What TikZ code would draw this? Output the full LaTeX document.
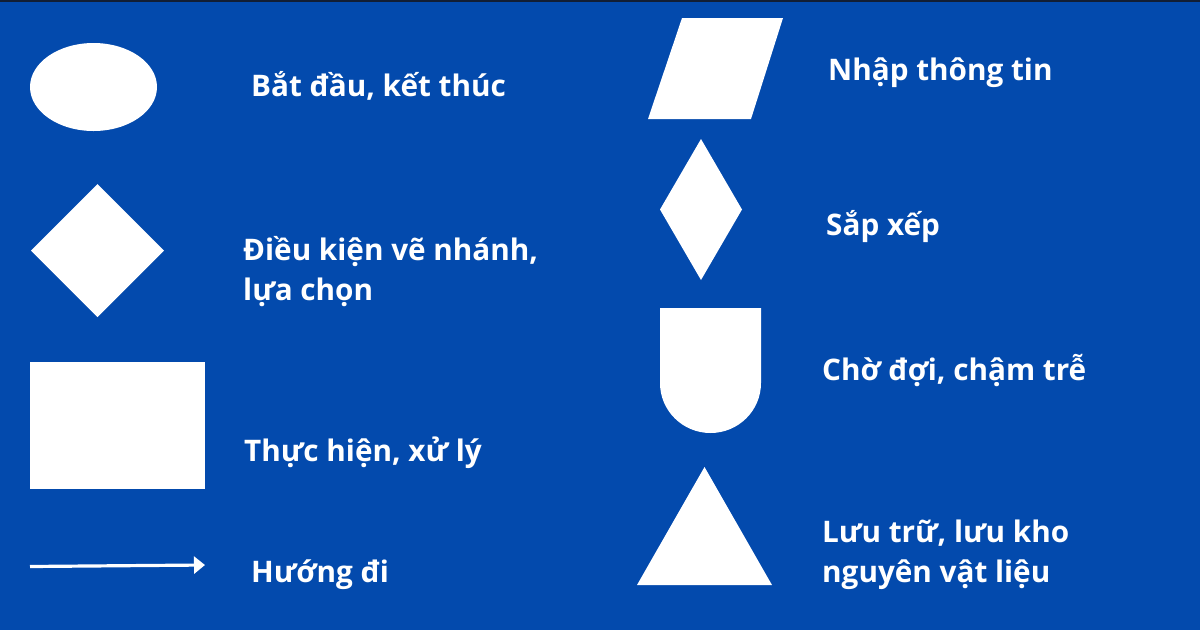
\documentclass[tikz,border=0pt]{standalone}
\usetikzlibrary{arrows.meta}
\usepackage{fontspec}
\setmainfont{Open Sans}[BoldFont={* Bold}]
\definecolor{bgblue}{RGB}{3,74,173}
\definecolor{topdark}{RGB}{18,30,52}
\begin{document}
\begin{tikzpicture}[x=1pt,y=-1pt,
  shapefill/.style={fill=white,draw=none},
  lbl/.style={anchor=base west,text=white,font=\fontsize{29.7}{40}\selectfont\bfseries,inner sep=0pt,align=left}]
\useasboundingbox (0,0) rectangle (1200,630);
\fill[bgblue] (0,0) rectangle (1200,630);
\fill[topdark] (0,0) rectangle (1200,2);
% left column shapes
\fill[shapefill] (93.5,87) ellipse [x radius=63.5, y radius=44];
\fill[shapefill] (97.5,184) -- (164,250.5) -- (97.5,317) -- (31,250.5) -- cycle;
\fill[shapefill] (30,362) rectangle (205,489);
\coordinate (arrs) at (30,566.5);
\coordinate (arre) at (205,565);
\draw[white,line width=3.2pt,-{Triangle[length=11pt,width=17pt]}] (arrs) -- (arre);
% right column shapes
\fill[shapefill] (682,18) -- (783,18) -- (751,119) -- (648,119) -- cycle;
\fill[shapefill] (701,139) -- (742,209.5) -- (701,280) -- (660,209.5) -- cycle;
\fill[shapefill] (660,308) -- (761,308) -- (761,383) arc[start angle=0,end angle=180,x radius=50.5,y radius=50] -- cycle;
\fill[shapefill] (704.5,467) -- (772,585) -- (637,585) -- cycle;
% labels
\node[lbl] (t1) at (251,96) {Bắt đầu, kết thúc};
\node[lbl] (t2) at (243,300) {Điều kiện vẽ nhánh,\\lựa chọn};
\node[lbl] (t3) at (244,461) {Thực hiện, xử lý};
\node[lbl] (t4) at (251,582) {Hướng đi};
\node[lbl] (t5) at (828,80) {Nhập thông tin};
\node[lbl] (t6) at (826,235) {Sắp xếp};
\node[lbl] (t7) at (822,380) {Chờ đợi, chậm trễ};
\node[lbl] (t8) at (822,582) {Lưu trữ, lưu kho\\nguyên vật liệu};
\end{tikzpicture}
\end{document}
